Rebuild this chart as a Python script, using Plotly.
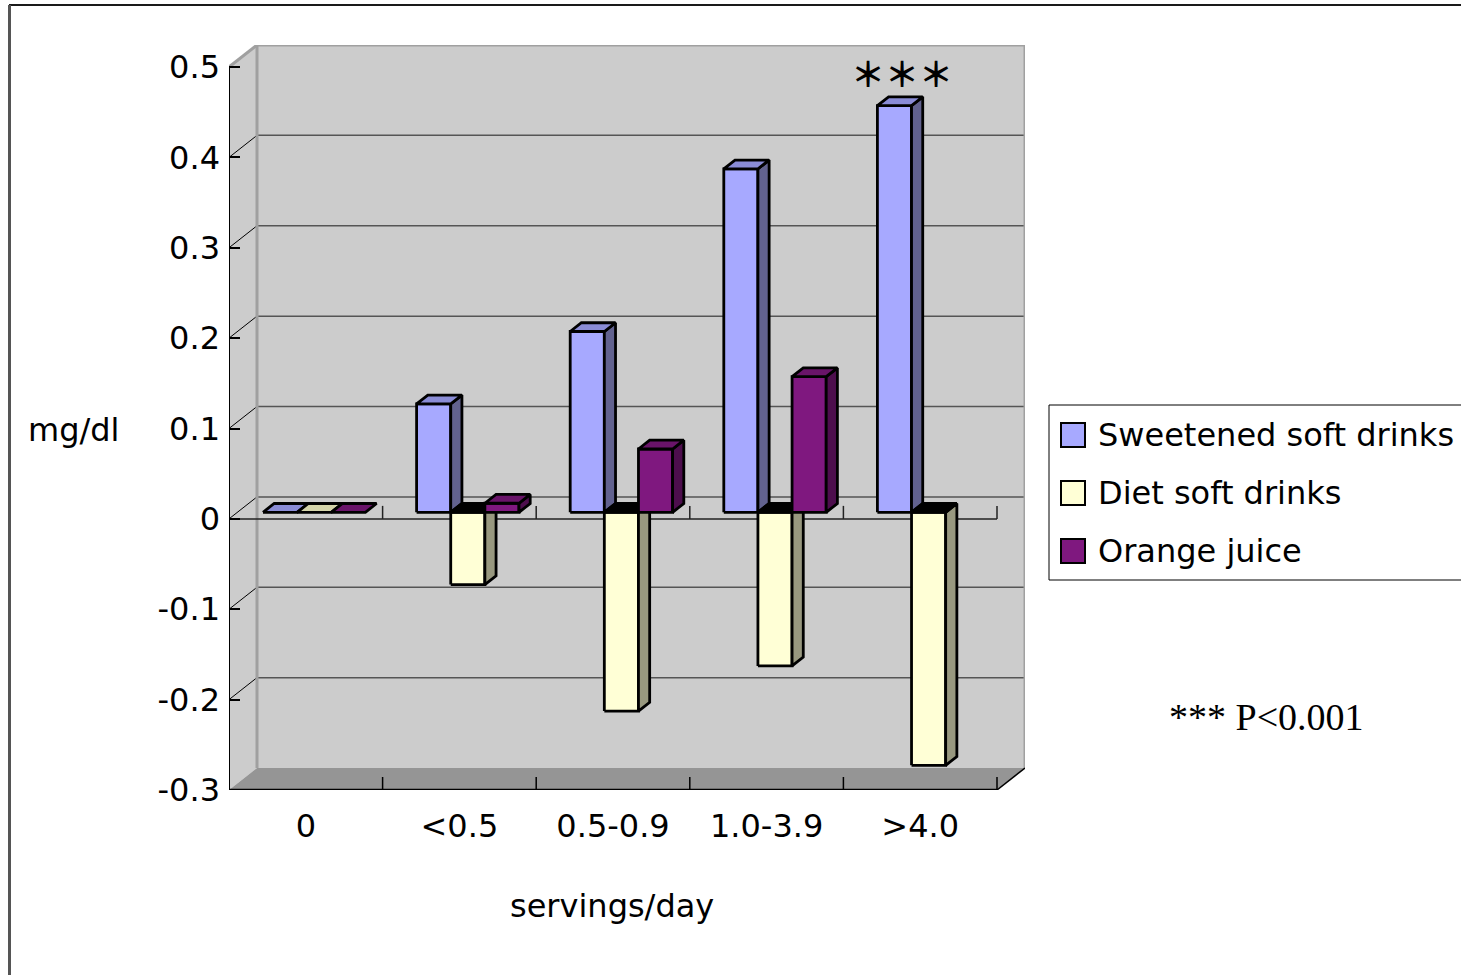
import plotly.graph_objects as go

# ---- data ---------------------------------------------------------------
categories = ["0", "<0.5", "0.5-0.9", "1.0-3.9", ">4.0"]
series_names = ["Sweetened soft drinks", "Diet soft drinks", "Orange juice"]
sweetened = [0.0, 0.12, 0.20, 0.38, 0.45]
diet = [0.0, -0.08, -0.22, -0.17, -0.28]
orange_juice = [0.0, 0.01, 0.07, 0.15, None]
y_ticks = [-0.3, -0.2, -0.1, 0.0, 0.1, 0.2, 0.3, 0.4, 0.5]
y_tick_labels = ["-0.3", "-0.2", "-0.1", "0", "0.1", "0.2", "0.3", "0.4", "0.5"]

# ---- styling ------------------------------------------------------------
front_colors = ["#A7A9FF", "#FFFFD6", "#7F187F"]
top_colors = ["#8A8CD6", "#D4D4AA", "#691469"]
side_colors = ["#62628F", "#98987F", "#4D0E4D"]
base_face_color = "#000000"   # face seen at the zero plane for negative bars
wall_color = "#CCCCCC"
floor_color = "#959595"
edge_color = "#A0A0A0"
grid_color = "#555555"
FONT = "DejaVu Sans"

W, H = 1461, 975
AX_LEFT, AX_BOTTOM = 229, 790           # front plane origin, pixels
CAT_PX, UNIT_PX = 153.6, 903.75         # pixels per category / per 1.0 mg/dl
DEPTH_PX_X, DEPTH_PX_Y = 28, 22         # wall depth on screen
Y_MIN, Y_MAX = -0.3, 0.5
N = len(categories)

DX = DEPTH_PX_X / CAT_PX                # depth offset in axis units
DY = DEPTH_PX_Y / UNIT_PX
X_MIN, X_MAX = -0.5, N - 0.5

BAR_W = 1 / 4.5                         # three bars + 150% gap
BAR_FRONT, BAR_BACK = 0.3, 0.7          # bar depth position inside the box


def px_x(p):
    return p / W


def px_y(p):
    return 1 - p / H


fig = go.Figure()
shapes = []


def line(x0, y0, x1, y1, color="black", width=1.0):
    shapes.append(dict(type="line", xref="x", yref="y",
                       x0=x0, y0=y0, x1=x1, y1=y1, layer="below",
                       line=dict(color=color, width=width)))


def poly(pts, fill):
    path = "M " + " L ".join(f"{x},{y}" for x, y in pts) + " Z"
    shapes.append(dict(type="path", xref="x", yref="y", path=path, layer="below",
                       fillcolor=fill, line=dict(color=fill, width=0)))


# ---- walls and floor ----------------------------------------------------
poly([(X_MIN + DX, Y_MIN + DY), (X_MAX + DX, Y_MIN + DY),
      (X_MAX + DX, Y_MAX + DY), (X_MIN + DX, Y_MAX + DY)], wall_color)
poly([(X_MIN, Y_MIN), (X_MIN + DX, Y_MIN + DY),
      (X_MIN + DX, Y_MAX + DY), (X_MIN, Y_MAX)], wall_color)
poly([(X_MIN, Y_MIN), (X_MAX, Y_MIN),
      (X_MAX + DX, Y_MIN + DY), (X_MIN + DX, Y_MIN + DY)], floor_color)

# gridlines on the back wall and the left wall
for v in y_ticks[1:-1]:
    line(X_MIN + DX, v + DY, X_MAX + DX, v + DY, grid_color, 1.5)
    line(X_MIN, v, X_MIN + DX, v + DY, "black", 1)

# wall edges
line(X_MIN + DX, Y_MIN + DY, X_MIN + DX, Y_MAX + DY, edge_color, 3)
line(X_MAX + DX, Y_MIN + DY, X_MAX + DX, Y_MAX + DY, edge_color, 3)
line(X_MIN, Y_MAX, X_MIN + DX, Y_MAX + DY, edge_color, 3)
line(X_MIN + DX, Y_MAX + DY, X_MAX + DX, Y_MAX + DY, edge_color, 3)
line(X_MAX, Y_MIN, X_MAX + DX, Y_MIN + DY, "black", 1.5)

# front value axis, floor edge and zero line with category ticks
TICK = 13 / UNIT_PX
line(X_MIN, Y_MIN, X_MIN, Y_MAX, "black", 2)
line(X_MIN, Y_MIN, X_MAX, Y_MIN, "black", 2.5)
line(X_MIN, 0, X_MAX, 0, "#222222", 1.5)
for k in range(1, N + 1):
    xb = X_MIN + k
    line(xb, Y_MIN, xb, Y_MIN + TICK, "black", 1.5)
    line(xb, 0, xb, TICK, "#222222", 1.5)

# ---- 3D bars, drawn left to right so nearer faces cover earlier ones ----
series_values = [sweetened, diet, orange_juice]


def face(pts, color):
    xs = [p[0] for p in pts] + [pts[0][0]]
    ys = [p[1] for p in pts] + [pts[0][1]]
    fig.add_trace(go.Scatter(x=xs, y=ys, mode="lines", fill="toself",
                             fillcolor=color, line=dict(color="black", width=2.8),
                             hoverinfo="skip", showlegend=False))


fx0, fy0 = BAR_FRONT * DX, BAR_FRONT * DY
ddx, ddy = (BAR_BACK - BAR_FRONT) * DX, (BAR_BACK - BAR_FRONT) * DY
for i in range(N):
    for j, vals in enumerate(series_values):
        v = vals[i]
        if v is None:
            continue
        xl = i - 0.5 + 0.75 * BAR_W + j * BAR_W + fx0
        xr = xl + BAR_W
        lo, hi = min(v, 0) + fy0, max(v, 0) + fy0
        if v != 0:
            face([(xl, lo), (xr, lo), (xr, hi), (xl, hi)], front_colors[j])
            face([(xr, lo), (xr + ddx, lo + ddy), (xr + ddx, hi + ddy), (xr, hi)],
                 side_colors[j])
        top = top_colors[j] if v >= 0 else base_face_color
        face([(xl, hi), (xr, hi), (xr + ddx, hi + ddy), (xl + ddx, hi + ddy)], top)

# ---- legend -------------------------------------------------------------
annotations = []
shapes.append(dict(type="rect", xref="paper", yref="paper",
                   x0=px_x(1049), x1=px_x(1475), y0=px_y(580), y1=px_y(405),
                   fillcolor="white", line=dict(color="black", width=1), layer="above"))
for k, name in enumerate(series_names):
    cy = 435 + 58 * k
    shapes.append(dict(type="rect", xref="paper", yref="paper",
                       x0=px_x(1061), x1=px_x(1085), y0=px_y(cy + 12), y1=px_y(cy - 12),
                       fillcolor=front_colors[k], line=dict(color="black", width=2),
                       layer="above"))
    annotations.append(dict(x=px_x(1096), y=px_y(cy), xref="paper", yref="paper",
                            text=name, showarrow=False, xanchor="left", yanchor="middle",
                            font=dict(family=FONT, size=32, color="black")))

# ---- text ---------------------------------------------------------------
annotations += [
    dict(x=px_x(73), y=px_y(430), text="mg/dl"),
    dict(x=px_x(612), y=px_y(906), text="servings/day"),
]
for a in annotations[-2:]:
    a.update(xref="paper", yref="paper", showarrow=False, xanchor="center",
             yanchor="middle", font=dict(family=FONT, size=32, color="black"))
annotations.append(dict(x=px_x(1266), y=px_y(717), xref="paper", yref="paper",
                        text="*** P<0.001", showarrow=False, xanchor="center",
                        yanchor="middle",
                        font=dict(family="Liberation Serif", size=38, color="black")))

# significance marker above the tallest bar
star_x = 4 - 0.5 + 0.75 * BAR_W + 0.5 * BAR_W + fx0
annotations.append(dict(x=star_x, y=sweetened[4], xref="x", yref="y",
                        xshift=8, yshift=40,
                        text="＊＊＊", showarrow=False, xanchor="center",
                        yanchor="middle",
                        font=dict(family="Noto Sans CJK JP", size=34,
                                  color="black", weight="bold")))

# outer frame
shapes.append(dict(type="line", xref="paper", yref="paper", x0=px_x(9), x1=1.01,
                   y0=px_y(5), y1=px_y(5), line=dict(color="#1A1A1A", width=2),
                   layer="above"))
shapes.append(dict(type="line", xref="paper", yref="paper", x0=px_x(9.5), x1=px_x(9.5),
                   y0=px_y(5), y1=-0.01, line=dict(color="#555555", width=3),
                   layer="above"))

fig.update_layout(
    width=W, height=H,
    margin=dict(l=0, r=0, t=0, b=0, autoexpand=False),
    paper_bgcolor="white", plot_bgcolor="rgba(0,0,0,0)",
    showlegend=False,
    shapes=shapes, annotations=annotations,
    xaxis=dict(domain=[px_x(AX_LEFT), px_x(AX_LEFT + N * CAT_PX + DEPTH_PX_X)],
               range=[X_MIN, X_MAX + DX], tickmode="array",
               tickvals=list(range(N)), ticktext=categories,
               showgrid=False, zeroline=False, showline=False, ticks="",
               ticklabelstandoff=14,
               tickfont=dict(family=FONT, size=32, color="black")),
    yaxis=dict(domain=[px_y(AX_BOTTOM), px_y(AX_BOTTOM - (Y_MAX - Y_MIN) * UNIT_PX - DEPTH_PX_Y)],
               range=[Y_MIN, Y_MAX + DY], tickmode="array",
               tickvals=y_ticks, ticktext=y_tick_labels,
               showgrid=False, zeroline=False, showline=False,
               ticks="inside", ticklen=11, tickwidth=1.5, tickcolor="black",
               ticklabelstandoff=8,
               tickfont=dict(family=FONT, size=32, color="black")),
)

fig.write_html("out.html")
